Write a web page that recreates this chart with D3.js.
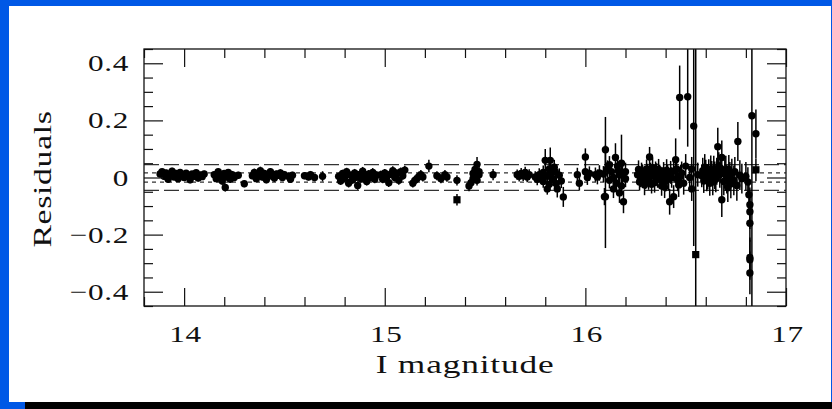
<!DOCTYPE html>
<html>
<head>
<meta charset="utf-8">
<script src="https://cdn.jsdelivr.net/npm/d3@7/dist/d3.min.js"></script>
<style>
  html, body { margin: 0; padding: 0; background: #0058e6; }
  svg { display: block; }
</style>
</head>
<body>
<svg id="chart" width="832" height="409"></svg>
<script>
// Photometric residuals against I magnitude
const magnitudes = [
  13.88, 13.89, 13.90, 13.91, 13.92, 13.93, 13.94, 13.95, 13.96, 13.97, 13.98, 13.99,
  14.00, 14.01, 14.02, 14.03, 14.04, 14.05, 14.06, 14.07, 14.08, 14.09, 14.10,
  14.15, 14.16, 14.17, 14.18, 14.19, 14.20, 14.205, 14.21, 14.22, 14.23, 14.24, 14.25, 14.27, 14.30,
  14.34, 14.35, 14.36, 14.37, 14.38, 14.39, 14.40, 14.41, 14.42, 14.43, 14.44, 14.45, 14.46, 14.47,
  14.48, 14.49, 14.50, 14.52, 14.53, 14.54,
  14.60, 14.62, 14.63, 14.65, 14.69,
  14.77, 14.78, 14.79, 14.80, 14.81, 14.82, 14.83, 14.84, 14.85, 14.86, 14.865, 14.87, 14.88,
  14.89, 14.90, 14.91, 14.92, 14.93, 14.94, 14.95, 14.96,
  14.98, 14.99, 15.00, 15.01, 15.02, 15.03, 15.04, 15.05, 15.06, 15.07, 15.08, 15.09, 15.10,
  15.14, 15.15, 15.16, 15.17, 15.18, 15.19, 15.22,
  15.26, 15.28, 15.30, 15.31,
  15.36, 15.36,
  15.42, 15.43, 15.44, 15.44, 15.45, 15.45, 15.46, 15.46, 15.47, 15.47,
  15.54,
  15.66, 15.67, 15.68, 15.69, 15.70, 15.71, 15.72,
  15.75, 15.76, 15.77, 15.78, 15.79, 15.79, 15.80, 15.81, 15.81, 15.82, 15.82, 15.825, 15.83,
  15.84, 15.85, 15.86, 15.87, 15.88, 15.89,
  15.96, 15.97, 16.00, 16.00, 16.01, 16.02, 16.05, 16.06, 16.07,
  16.09, 16.095, 16.10, 16.10, 16.11, 16.12, 16.13, 16.14, 16.15, 16.155, 16.16, 16.17, 16.17,
  16.18, 16.18, 16.19, 16.20, 16.20,
  16.26, 16.27, 16.28, 16.29, 16.30, 16.31, 16.32, 16.32, 16.33, 16.34, 16.35, 16.36, 16.37,
  16.38, 16.385, 16.39, 16.40, 16.41, 16.42, 16.43, 16.44, 16.44, 16.45, 16.46, 16.47, 16.48,
  16.49, 16.50, 16.51, 16.52, 16.53, 16.53, 16.54, 16.55, 16.56,
  16.58, 16.59, 16.60, 16.61, 16.62, 16.63, 16.64, 16.65, 16.66, 16.665, 16.67, 16.68, 16.68,
  16.69, 16.70, 16.71, 16.72, 16.73, 16.74, 16.76, 16.77, 16.78,
  16.80, 16.81, 16.815, 16.82, 16.82, 16.82, 16.82, 16.82, 16.82, 16.83, 16.85, 16.85,
  16.265, 16.275, 16.285, 16.295, 16.305, 16.315, 16.325, 16.335, 16.345, 16.355,
  16.365, 16.375, 16.395, 16.405, 16.415, 16.425, 16.455, 16.465, 16.475,
  16.585, 16.595, 16.605, 16.615, 16.625, 16.635, 16.645, 16.655, 16.675,
  16.695, 16.705, 16.715, 16.725, 16.745, 16.755,
  16.12, 16.14, 16.165, 16.185, 15.845, 15.855
];

const residuals = [
  0.012, 0.020, 0.004, 0.016, -0.006, 0.010, 0.022, 0.002, 0.014, -0.004, 0.018, 0.008,
  0.000, 0.015, 0.006, -0.008, 0.012, 0.004, 0.017, -0.002, 0.009, 0.003, 0.012,
  0.010, -0.004, 0.020, 0.006, -0.012, 0.014, -0.035, 0.002, 0.018, -0.006, 0.010, 0.000, 0.008, -0.022,
  0.006, 0.018, -0.004, 0.012, 0.024, 0.002, 0.014, -0.008, 0.010, 0.020, 0.004, -0.002, 0.012, 0.008,
  0.016, 0.000, 0.010, 0.004, -0.006, 0.008,
  0.006, 0.002, 0.010, 0.000, 0.004,
  0.004, -0.012, 0.014, -0.002, 0.020, -0.020, 0.008, -0.008, 0.016, 0.002, -0.028, 0.010, -0.004,
  0.022, 0.006, -0.014, 0.012, 0.000, 0.018, -0.006, 0.008,
  0.010, -0.006, 0.016, 0.002, -0.018, 0.012, 0.024, 0.000, 0.014, -0.010, 0.020, 0.006, 0.026,
  -0.020, -0.010, -0.004, 0.004, 0.010, 0.002, 0.040,
  0.006, -0.004, 0.010, 0.002,
  -0.010, -0.078,
  -0.030, -0.018, -0.004, 0.014, 0.028, 0.004, 0.046, -0.010, 0.020, 0.010,
  0.010,
  0.010, 0.004, 0.014, 0.006, 0.018, 0.002, 0.010,
  0.002, -0.006, 0.010, 0.000, 0.018, -0.014, 0.060, 0.004, -0.040, 0.030, -0.024, 0.060, 0.012,
  -0.006, 0.020, -0.040, 0.008, -0.012, -0.068,
  0.010, -0.020, 0.072, 0.020, 0.000, 0.014, 0.010, 0.002, 0.016,
  0.012, -0.067, 0.097, -0.067, 0.030, -0.010, 0.020, 0.000, 0.070, -0.020, 0.040, -0.054, 0.010,
  -0.030, 0.050, -0.085, 0.020, -0.004,
  0.010, -0.016, 0.022, 0.002, -0.010, 0.016, 0.000, 0.072, -0.024, 0.008, 0.024, -0.006, 0.012,
  -0.030, 0.004, 0.020, -0.014, 0.010, -0.085, 0.000, -0.067, 0.022, 0.062, -0.010, 0.280, 0.016,
  -0.020, 0.040, 0.283, 0.000, 0.030, -0.040, 0.180, -0.270, 0.010,
  0.006, -0.012, 0.020, 0.002, -0.020, 0.014, 0.030, -0.006, 0.108, 0.040, 0.010, 0.070, -0.078,
  -0.014, 0.026, -0.036, 0.004, 0.016, -0.010, 0.126, 0.008, -0.004,
  0.004, -0.016, -0.060, -0.095, -0.120, -0.160, -0.280, -0.288, -0.334, 0.216, 0.153, 0.027,
  0.028, -0.004, 0.012, -0.026, 0.030, -0.008, 0.018, 0.034, -0.018, 0.014,
  0.028, 0.000, -0.034, 0.026, -0.006, 0.018, 0.030, -0.026, 0.004,
  0.024, 0.036, -0.004, 0.018, 0.030, -0.016, 0.008, 0.022, 0.032,
  0.012, -0.006, 0.028, -0.022, 0.020, -0.028,
  0.045, -0.040, 0.022, 0.008, 0.036, -0.022
];

const errors = [
  0.012, 0.010, 0.012, 0.011, 0.012, 0.010, 0.012, 0.011, 0.010, 0.012, 0.012, 0.011,
  0.012, 0.010, 0.012, 0.012, 0.011, 0.012, 0.010, 0.012, 0.011, 0.012, 0.012,
  0.012, 0.012, 0.011, 0.012, 0.013, 0.012, 0.014, 0.012, 0.011, 0.012, 0.013, 0.012, 0.012, 0.012,
  0.012, 0.013, 0.012, 0.012, 0.014, 0.012, 0.013, 0.012, 0.012, 0.013, 0.012, 0.013, 0.012, 0.012,
  0.013, 0.012, 0.013, 0.013, 0.013, 0.012,
  0.012, 0.012, 0.013, 0.013, 0.018,
  0.013, 0.014, 0.013, 0.014, 0.014, 0.015, 0.013, 0.014, 0.014, 0.014, 0.015, 0.013, 0.014,
  0.015, 0.014, 0.014, 0.014, 0.014, 0.015, 0.014, 0.014,
  0.014, 0.014, 0.014, 0.015, 0.015, 0.014, 0.015, 0.014, 0.015, 0.015, 0.015, 0.014, 0.015,
  0.015, 0.016, 0.015, 0.016, 0.016, 0.016, 0.022,
  0.016, 0.016, 0.016, 0.017,
  0.018, 0.020,
  0.018, 0.017, 0.018, 0.018, 0.020, 0.017, 0.026, 0.018, 0.019, 0.018,
  0.020,
  0.018, 0.018, 0.019, 0.018, 0.020, 0.019, 0.019,
  0.020, 0.021, 0.022, 0.021, 0.024, 0.022, 0.040, 0.022, 0.020, 0.024, 0.023, 0.045, 0.022,
  0.023, 0.025, 0.030, 0.024, 0.025, 0.035,
  0.024, 0.026, 0.030, 0.025, 0.026, 0.025, 0.025, 0.026, 0.027,
  0.028, 0.030, 0.115, 0.180, 0.030, 0.028, 0.030, 0.029, 0.050, 0.030, 0.032, 0.035, 0.030,
  0.032, 0.100, 0.040, 0.032, 0.030,
  0.028, 0.030, 0.030, 0.028, 0.030, 0.032, 0.030, 0.035, 0.032, 0.030, 0.032, 0.030, 0.033,
  0.034, 0.032, 0.034, 0.035, 0.034, 0.045, 0.036, 0.040, 0.036, 0.075, 0.038, 0.112, 0.040,
  0.040, 0.042, 0.175, 0.040, 0.042, 0.042, 0.420, 0.760, 0.042,
  0.040, 0.042, 0.042, 0.044, 0.044, 0.044, 0.046, 0.046, 0.066, 0.048, 0.046, 0.060, 0.060,
  0.048, 0.050, 0.050, 0.050, 0.050, 0.052, 0.068, 0.052, 0.052,
  0.050, 0.052, 0.055, 0.060, 0.060, 0.065, 0.070, 0.070, 0.075, 0.700, 0.085, 0.040,
  0.032, 0.030, 0.034, 0.036, 0.033, 0.035, 0.034, 0.036, 0.035, 0.036,
  0.037, 0.036, 0.038, 0.038, 0.039, 0.040, 0.040, 0.042, 0.041,
  0.045, 0.046, 0.044, 0.046, 0.047, 0.046, 0.048, 0.047, 0.049,
  0.050, 0.050, 0.051, 0.051, 0.052, 0.053,
  0.030, 0.032, 0.033, 0.034, 0.026, 0.027
];

// 1 marks the points plotted with square symbols
const squareMarkers = [
  0,0,0,0,0,0,0,0,0,0,0,0, 0,0,0,0,0,0,0,0,0,0,0,
  0,0,0,0,0,0,0,0,0,0,0,0,0,0,
  0,0,0,0,0,0,0,0,0,0,0,0,0,0, 0,0,0,0,0,0,
  0,0,0,0,0,
  0,0,0,0,0,0,0,0,0,0,0,0,0, 0,0,0,0,0,0,0,0,
  0,0,0,0,0,0,0,0,0,0,0,0,0,
  0,0,0,0,0,0,0,
  0,0,0,0,
  0,1,
  0,0,0,0,0,0,0,0,0,0,
  0,
  0,0,0,0,0,0,0,
  0,0,0,0,0,0,0,0,0,0,0,0,0, 0,0,0,0,0,0,
  0,0,0,0,0,0,0,0,0,
  0,0,0,0,0,0,0,0,0,0,0,0,0, 0,0,0,0,0,
  0,0,0,0,0,0,0,0,0,0,0,0,0, 0,0,0,0,0,0,0,0,0,0,0,0,0,
  0,0,0,0,0,0,0,1,0,
  0,0,0,0,0,0,0,0,0,0,0,0,0, 0,0,0,0,0,0,0,0,0,
  0,0,0,0,0,0,0,0,0,0,0,1,
  0,0,0,0,0,0,0,0,0,0,
  0,0,0,0,0,0,0,0,0,0,
  0,0,0,0,0,0,0,0,0,0,
  0,0,0,0,0,0,0,0,0,0
];

const xDomain = [13.8, 17.0];
const yDomain = [-0.45, 0.45];
const xMajorTicks = [14, 15, 16, 17];
const xMinorTicks = [13.8, 14.2, 14.4, 14.6, 14.8, 15.2, 15.4, 15.6, 15.8, 16.2, 16.4, 16.6, 16.8];
const yMajorTicks = [-0.4, -0.2, 0, 0.2, 0.4];
const yMinorTicks = [-0.45, -0.35, -0.3, -0.25, -0.15, -0.1, -0.05, 0.05, 0.1, 0.15, 0.25, 0.3, 0.35, 0.45];
const dashedLevels = [-0.045, 0.045];
const dottedLevels = [-0.016, 0.016];
const xTitle = "I magnitude";
const yTitle = "Residuals";

const svg = d3.select("#chart");

// page frame: blue backdrop, white sheet, black strip along the bottom
svg.append("rect").attr("x", 0).attr("y", 0).attr("width", 832).attr("height", 409).attr("fill", "#0058e6");
svg.append("rect").attr("x", 9).attr("y", 6).attr("width", 822).attr("height", 396).attr("fill", "#ffffff");
svg.append("rect").attr("x", 25).attr("y", 402).attr("width", 807).attr("height", 7).attr("fill", "#000000");

const plotLeft = 144, plotRight = 786, plotTop = 49, plotBottom = 306;
const x = d3.scaleLinear().domain(xDomain).range([plotLeft, plotRight]);
const y = d3.scaleLinear().domain(yDomain).range([plotBottom, plotTop]);

const font = "'Liberation Serif', 'Times New Roman', serif";
const ink = "#111";

svg.append("defs").append("clipPath").attr("id", "plotClip")
  .append("rect").attr("x", plotLeft).attr("y", plotTop)
  .attr("width", plotRight - plotLeft).attr("height", plotBottom - plotTop);

// reference levels
const levels = svg.append("g").attr("clip-path", "url(#plotClip)");
levels.selectAll("line.dash").data(dashedLevels).join("line").attr("class", "dash")
  .attr("x1", plotLeft).attr("x2", plotRight)
  .attr("y1", d => y(d)).attr("y2", d => y(d))
  .attr("stroke", "#333").attr("stroke-width", 1.3).attr("stroke-dasharray", "15,5");
levels.selectAll("line.dot").data(dottedLevels).join("line").attr("class", "dot")
  .attr("x1", plotLeft).attr("x2", plotRight)
  .attr("y1", d => y(d)).attr("y2", d => y(d))
  .attr("stroke", "#333").attr("stroke-width", 1.3).attr("stroke-dasharray", "4,4");

// points with error bars
const points = magnitudes.map((m, i) => ({ m, r: residuals[i], e: errors[i], sq: squareMarkers[i] === 1 }));
const marks = svg.append("g").attr("clip-path", "url(#plotClip)");
marks.selectAll("line.err").data(points).join("line").attr("class", "err")
  .attr("x1", d => x(d.m)).attr("x2", d => x(d.m))
  .attr("y1", d => y(d.r - d.e)).attr("y2", d => y(d.r + d.e))
  .attr("stroke", "#000").attr("stroke-width", 1.5);
marks.selectAll("circle").data(points.filter(d => !d.sq)).join("circle")
  .attr("cx", d => x(d.m)).attr("cy", d => y(d.r)).attr("r", 3.7).attr("fill", "#000");
marks.selectAll("rect").data(points.filter(d => d.sq)).join("rect")
  .attr("x", d => x(d.m) - 3.6).attr("y", d => y(d.r) - 3.6)
  .attr("width", 7.2).attr("height", 7.2).attr("fill", "#000");

// axes: ticks point inward on all four sides, labels drawn wide like plotter lettering
const fmtY = d => d === 0 ? "0" : (d < 0 ? "\u2212" : "") + Math.abs(d).toFixed(1);

function styleTicks(g) {
  g.select(".domain").remove();
  g.selectAll(".tick line").attr("stroke", ink).attr("stroke-width", 1.2);
}

svg.append("g").attr("transform", `translate(0,${plotBottom})`)
  .call(d3.axisBottom(x).tickValues(xMinorTicks).tickSize(-9).tickFormat("")).call(styleTicks);
svg.append("g").attr("transform", `translate(0,${plotBottom})`)
  .call(d3.axisBottom(x).tickValues(xMajorTicks).tickSize(-18).tickFormat("")).call(styleTicks);
svg.append("g").attr("transform", `translate(0,${plotTop})`)
  .call(d3.axisTop(x).tickValues(xMinorTicks).tickSize(-9).tickFormat("")).call(styleTicks);
svg.append("g").attr("transform", `translate(0,${plotTop})`)
  .call(d3.axisTop(x).tickValues(xMajorTicks).tickSize(-18).tickFormat("")).call(styleTicks);
svg.append("g").attr("transform", `translate(${plotLeft},0)`)
  .call(d3.axisLeft(y).tickValues(yMinorTicks).tickSize(-9).tickFormat("")).call(styleTicks);
svg.append("g").attr("transform", `translate(${plotLeft},0)`)
  .call(d3.axisLeft(y).tickValues(yMajorTicks).tickSize(-19).tickFormat("")).call(styleTicks);
svg.append("g").attr("transform", `translate(${plotRight},0)`)
  .call(d3.axisRight(y).tickValues(yMinorTicks).tickSize(-9).tickFormat("")).call(styleTicks);
svg.append("g").attr("transform", `translate(${plotRight},0)`)
  .call(d3.axisRight(y).tickValues(yMajorTicks).tickSize(-19).tickFormat("")).call(styleTicks);

const labelStretch = 1.3;
svg.append("g").selectAll("text").data(xMajorTicks).join("text")
  .attr("transform", d => `translate(${x(d) + 1.5},341.5) scale(${labelStretch},1)`)
  .attr("text-anchor", "middle").attr("fill", ink)
  .style("font-family", font).style("font-size", "24px").style("letter-spacing", "0.5px")
  .text(d3.format("d"));
svg.append("g").selectAll("text").data(yMajorTicks).join("text")
  .attr("transform", d => `translate(129,${y(d) + 8})  scale(${labelStretch},1)`)
  .attr("text-anchor", "end").attr("fill", ink)
  .style("font-family", font).style("font-size", "24px").style("letter-spacing", "0.5px")
  .text(fmtY);

// frame
svg.append("rect").attr("x", plotLeft).attr("y", plotTop)
  .attr("width", plotRight - plotLeft).attr("height", plotBottom - plotTop)
  .attr("fill", "none").attr("stroke", ink).attr("stroke-width", 1.3);

// titles
svg.append("text").attr("transform", `translate(${(plotLeft + plotRight) / 2},373) scale(1.36,1)`)
  .attr("text-anchor", "middle").attr("fill", ink)
  .style("font-family", font).style("font-size", "26px").style("letter-spacing", "0.6px")
  .text(xTitle);
svg.append("text").attr("transform", "translate(51,179) rotate(-90) scale(1.3,1)")
  .attr("text-anchor", "middle").attr("fill", ink)
  .style("font-family", font).style("font-size", "26px").style("letter-spacing", "0.5px")
  .text(yTitle);
</script>
</body>
</html>
